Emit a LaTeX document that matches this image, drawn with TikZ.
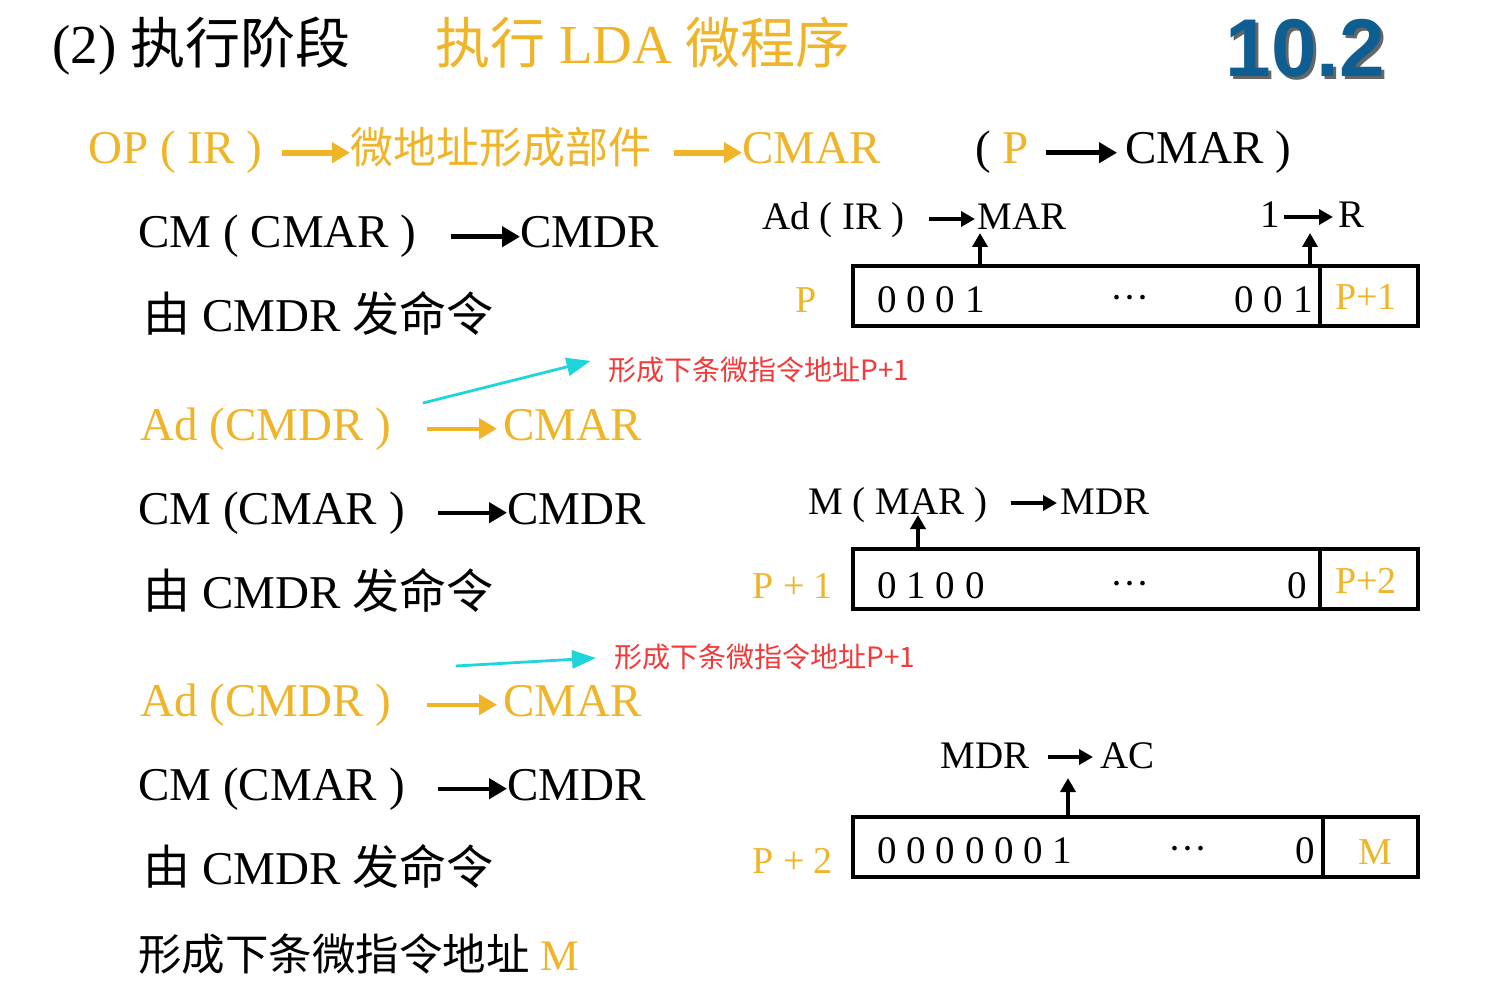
\documentclass[tikz,border=0pt]{standalone}
\usepackage{fontspec}
\setmainfont{Liberation Serif}
\newfontfamily\cjk{Noto Sans CJK SC}
\newfontfamily\arialf{Liberation Sans}
\usetikzlibrary{arrows.meta,positioning,fit,calc}
\definecolor{cGold}{HTML}{F0B428}
\definecolor{cRed} {HTML}{F23A3A}
\definecolor{cCyan}{HTML}{1ED6DA}
\definecolor{cSec} {HTML}{0F5E91}
\newcommand\fTitle{\fontsize{27.5}{32}\selectfont}
\newcommand\fMain{\fontsize{23.5}{28}\selectfont}
\newcommand\fSmall{\fontsize{19.5}{23}\selectfont}
\newcommand\fNote{\fontsize{14}{17}\selectfont}
\tikzset{
  txt/.style    ={inner sep=0pt,anchor=base west,font=\fMain,
                  text height=16pt,text depth=4.7pt},
  gtxt/.style   ={txt,text=cGold},
  stxt/.style   ={txt,font=\fSmall,text height=14pt,text depth=3pt},
  sgtxt/.style  ={stxt,text=cGold,font=\fontsize{19}{23}\selectfont},
  note/.style   ={inner sep=0pt,anchor=west,font=\fNote\cjk,text=cRed},
  arr/.style    ={-{Triangle[length=9pt,width=10pt]},line width=2.2pt},
  garr/.style   ={arr,draw=cGold},
  sarr/.style   ={-{Triangle[length=7pt,width=7.5pt]},line width=2pt},
  hint/.style   ={-{Triangle[length=12pt,width=9pt]},line width=1.4pt,draw=cCyan},
  regbox/.style ={draw,line width=2.3pt,inner sep=0pt},
  regsep/.style ={draw,line width=2.3pt},
}

\begin{document}
\begin{tikzpicture}[x=0.5pt,y=-0.5pt]
\useasboundingbox[fill=white] (0,0) rectangle (1500,984);

% ---- heading ------------------------------------------------------------
\node[txt,font=\fTitle,text height=20pt] (ttl) at (52,64) {(2) {\cjk 执行阶段}};
\node[gtxt,font=\fTitle,text height=20pt] (ttl2) at (435,64) {{\cjk 执行} LDA {\cjk 微程序}};
\node[txt,font=\arialf\bfseries\fontsize{41}{48}\selectfont,text=black!60,
      text height=30pt] (secsh) at (1228,80) {10.2};
\node[txt,font=\arialf\bfseries\fontsize{41}{48}\selectfont,text=cSec,
      text height=30pt] (sec) at (1225,77) {10.2};

% ---- left column --------------------------------------------------------
\node[gtxt] (op) at (88,164) {OP ( IR )};
\node[gtxt,font=\fontsize{21.5}{26}\selectfont\cjk] (gen) at (350,164) {微地址形成部件};
\node[gtxt] (cmar1) at (742,164) {CMAR};
\draw[garr,line width=3pt,shorten <=10pt] (op.east) -- (gen.west);
\draw[garr,line width=3pt,shorten <=11pt] (gen.east) -- (cmar1.west);
\node[txt] (pl) at (975,164) {( \textcolor{cGold}{P}};
\node[txt] (pcm) at (1125,164) {CMAR )};
\draw[arr,shorten <=8.5pt,shorten >=4pt] (pl.east) -- (pcm.west);

\node[txt] (cm2) at (138,248) {CM ( CMAR )};
\node[txt] (cmdr2) at (520,248) {CMDR};
\draw[arr,shorten <=17pt] (cm2.east) -- (cmdr2.west);
\node[txt] (cmd3) at (143,332) {{\cjk 由} CMDR {\cjk 发命令}};

\node[note] (nt1) at (608,370) {形成下条微指令地址P+1};
\coordinate (h1) at (423,403);
\draw[hint,shorten >=9pt] (h1) -- (nt1.north west);

\node[gtxt] (ad4) at (140,440) {Ad (CMDR )};
\node[gtxt] (cmar4) at (503,440) {CMAR};
\draw[garr,shorten <=18pt,shorten >=3pt] (ad4.east) -- (cmar4.west);
\node[txt] (cm5) at (138,524) {CM (CMAR )};
\node[txt] (cmdr5) at (507,524) {CMDR};
\draw[arr,shorten <=16.5pt] (cm5.east) -- (cmdr5.west);
\node[txt] (cmd6) at (143,608) {{\cjk 由} CMDR {\cjk 发命令}};

\node[note] (nt2) at (614,657) {形成下条微指令地址P+1};
\coordinate (h2) at (456,666);
\draw[hint,shorten >=9pt] (h2) -- (nt2.west);

\node[gtxt] (ad7) at (140,716) {Ad (CMDR )};
\node[gtxt] (cmar7) at (503,716) {CMAR};
\draw[garr,shorten <=18pt,shorten >=3pt] (ad7.east) -- (cmar7.west);
\node[txt] (cm8) at (138,800) {CM (CMAR )};
\node[txt] (cmdr8) at (507,800) {CMDR};
\draw[arr,shorten <=16.5pt] (cm8.east) -- (cmdr8.west);
\node[txt] (cmd9) at (143,884) {{\cjk 由} CMDR {\cjk 发命令}};

\node[txt,font=\fontsize{21.75}{26}\selectfont] (nxt) at (138,970)
  {{\cjk 形成下条微指令地址} \textcolor{cGold}{M}};

% ---- register P ---------------------------------------------------------
\node[stxt] (adir) at (762,230) {Ad ( IR )};
\node[stxt] (mar) at (977,230) {MAR};
\draw[sarr,shorten <=12pt,shorten >=1pt] (adir.east) -- (mar.west);
\node[stxt] (one) at (1260,228) {1};
\node[stxt] (rr) at (1338,228) {R};
\draw[sarr,shorten <=2pt,shorten >=2.5pt] (one.east) -- (rr.west);

\coordinate (b1a) at (853,266);
\coordinate (b1b) at (1418,326);
\node[regbox,fit=(b1a)(b1b)] (reg1) {};
\draw[regsep] (1320,266) -- (1320,326);
\coordinate (u1) at (980,266);
\coordinate (u2) at (1310,266);
\draw[sarr,shorten >=1.5pt] (u1) -- (u1 |- mar.base);
\draw[sarr,shorten >=2.5pt] (u2) -- (u2 |- rr.base);

\node[sgtxt] (p1) at (795,313) {P};
\node[stxt] (bits1) at (877,313) {0 0 0 1};
\node[stxt,anchor=base] (dots1) at (1130,311) {···};
\node[stxt,anchor=base east] (tail1) at (1313,313) {0 0 1};
\node[sgtxt] (nx1) at (1335,310) {P+1};

% ---- register P+1 -------------------------------------------------------
\node[stxt] (mmar) at (808,514) {M ( MAR )};
\node[stxt] (mdr) at (1060,514) {MDR};
\draw[sarr,shorten <=11.5pt,shorten >=1.5pt] (mmar.east) -- (mdr.west);

\coordinate (b2a) at (853,549);
\coordinate (b2b) at (1418,609);
\node[regbox,fit=(b2a)(b2b)] (reg2) {};
\draw[regsep] (1320,549) -- (1320,609);
\coordinate (u3) at (918,549);
\draw[sarr,shorten >=0.5pt] (u3) -- (u3 |- mmar.base);

\node[sgtxt] (p2) at (752,598) {P + 1};
\node[stxt] (bits2) at (877,598) {0 1 0 0};
\node[stxt,anchor=base] (dots2) at (1130,596) {···};
\node[stxt,anchor=base east] (tail2) at (1307,598) {0};
\node[sgtxt] (nx2) at (1335,593) {P+2};

% ---- register P+2 -------------------------------------------------------
\node[stxt] (mdr3) at (940,768) {MDR};
\node[stxt] (ac) at (1100,768) {AC};
\draw[sarr,shorten <=9pt,shorten >=3.5pt] (mdr3.east) -- (ac.west);

\coordinate (b3a) at (853,817);
\coordinate (b3b) at (1418,877);
\node[regbox,fit=(b3a)(b3b)] (reg3) {};
\draw[regsep] (1323,817) -- (1323,877);
\coordinate (u4) at (1068,817);
\draw[sarr,shorten >=5pt] (u4) -- (u4 |- ac.base);

\node[sgtxt] (p3) at (752,873) {P + 2};
\node[stxt] (bits3) at (877,863) {0 0 0 0 0 0 1};
\node[stxt,anchor=base] (dots3) at (1188,861) {···};
\node[stxt,anchor=base east] (tail3) at (1315,863) {0};
\node[sgtxt,anchor=base] (nx3) at (1375,864) {M};
\end{tikzpicture}
\end{document}
